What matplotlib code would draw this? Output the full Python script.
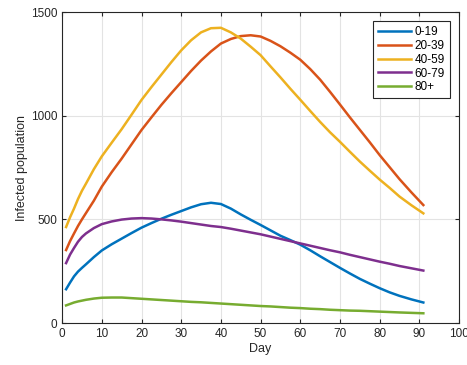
import numpy as np
import matplotlib
matplotlib.use('Agg')
import matplotlib.pyplot as plt

plt.rcParams['font.family'] = ['Liberation Sans', 'DejaVu Sans']

days = [1, 2, 3, 4, 5, 6, 8, 10, 12.5, 15, 17.5, 20, 22.5, 25, 27.5, 30, 32.5, 35, 37.5, 40,
        42.5, 45, 47.5, 50, 52.5, 55, 57.5, 60, 62.5, 65, 67.5, 70, 72.5, 75, 77.5, 80,
        82.5, 85, 88, 91]

age_0_19 = [163, 195, 225, 248, 266, 283, 318, 350, 380, 407, 434, 460, 482, 503, 522, 540,
            558, 573, 580, 574, 552, 524, 498, 473, 447, 421, 400, 378, 351, 322, 294, 266,
            239, 213, 190, 168, 148, 131, 114, 99]
age_20_39 = [352, 395, 432, 468, 500, 530, 590, 658, 728, 793, 862, 931, 992, 1052, 1108, 1162,
             1216, 1266, 1310, 1348, 1370, 1384, 1388, 1382, 1361, 1335, 1304, 1270, 1225, 1174,
             1115, 1054, 992, 932, 872, 810, 752, 694, 630, 569]
age_40_59 = [463, 510, 552, 598, 638, 672, 742, 804, 870, 935, 1005, 1076, 1138, 1198, 1258,
             1315, 1364, 1402, 1422, 1424, 1402, 1372, 1333, 1292, 1238, 1185, 1130, 1077,
             1023, 970, 920, 874, 826, 779, 735, 692, 652, 610, 568, 529]
age_60_79 = [289, 330, 362, 392, 415, 432, 458, 477, 490, 499, 504, 506, 504, 500, 495, 489,
             482, 475, 468, 463, 455, 446, 437, 428, 417, 406, 395, 384, 373, 362, 351, 341,
             329, 318, 307, 296, 286, 275, 264, 253]
age_80 = [85, 92, 99, 104, 108, 112, 118, 122, 123, 123, 120, 117, 114, 111, 108, 105,
          102, 100, 97, 94, 91, 88, 85, 82, 80, 77, 74, 72, 69, 67, 64, 62,
          60, 59, 57, 55, 53, 51, 49, 47]

labels = ['0-19', '20-39', '40-59', '60-79', '80+']
series = [age_0_19, age_20_39, age_40_59, age_60_79, age_80]
colors = ['#0072BD', '#D95319', '#EDB120', '#7E2F8E', '#77AC30']

fig = plt.figure(figsize=(4.67, 3.65), dpi=100)
ax = fig.add_axes([0.133, 0.115, 0.850, 0.852])

for y, lab, c in zip(series, labels, colors):
    ax.plot(days, y, color=c, lw=1.8, label=lab, solid_joinstyle='round')

ax.set_xlim(0, 100)
ax.set_ylim(0, 1500)
ax.set_xticks(np.arange(0, 101, 10))
ax.set_yticks([0, 500, 1000, 1500])
ax.grid(True, color='#e3e3e3', lw=0.8)
ax.set_axisbelow(True)
ax.tick_params(direction='in', top=True, right=True, labelsize=8.5, length=3,
               color='#262626', labelcolor='#262626')
for s in ax.spines.values():
    s.set_color('#262626')
    s.set_linewidth(0.8)

ax.set_xlabel('Day', fontsize=9, color='#262626', labelpad=2)
ax.set_ylabel('Infected population', fontsize=9, color='#262626', labelpad=2)

leg = ax.legend(loc='upper right', fontsize=8.5, fancybox=False, framealpha=1,
                edgecolor='#262626', handlelength=2.8, borderaxespad=0.8,
                labelspacing=0.15, handletextpad=0.3, borderpad=0.4)
leg.get_frame().set_linewidth(0.8)

fig.savefig('out.png', dpi=100)
